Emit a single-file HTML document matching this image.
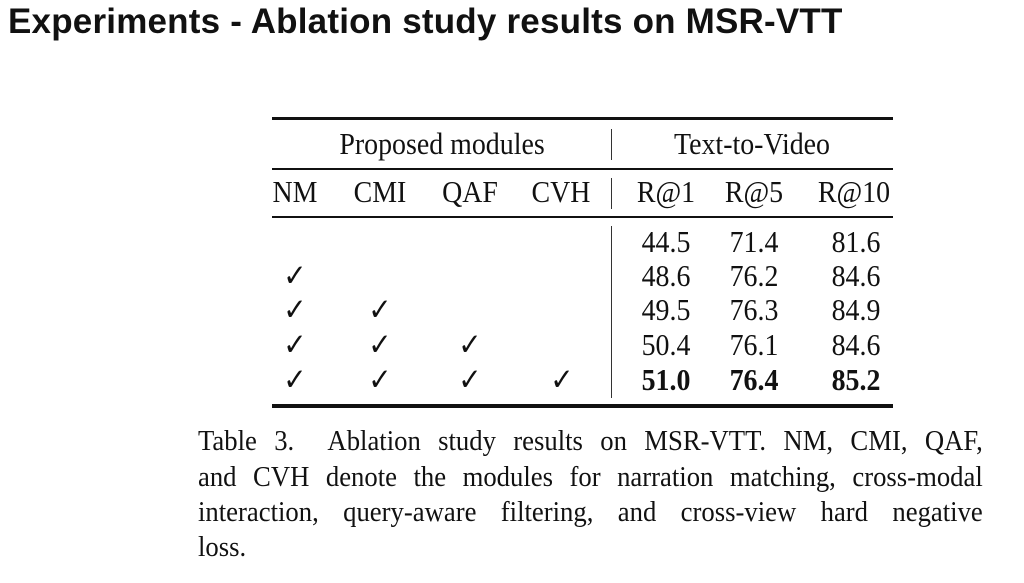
<!DOCTYPE html>
<html><head><meta charset="utf-8"><style>
body{margin:0;width:1024px;height:583px;background:#fff;position:relative;overflow:hidden;color:#111}
.t{position:absolute;font-family:"Liberation Serif",serif;font-size:31px;line-height:1;white-space:nowrap}
.c{transform:translateX(-50%) scaleX(0.9)}
.title{position:absolute;left:8px;top:2px;font-family:"Liberation Sans","NanumGothic",sans-serif;font-weight:bold;font-size:35px;letter-spacing:0.2px}
.rule{position:absolute;left:272px;width:621px;background:#111}
.cap{position:absolute;left:198px;width:853px;transform:scaleX(0.92);transform-origin:0 0;font-family:"Liberation Serif",serif;font-size:29px;line-height:1;text-align:justify;text-align-last:justify;white-space:nowrap}
b{font-weight:bold}
</style></head><body>
<div class="title">Experiments - Ablation study results on MSR-VTT</div>
<div class="rule" style="top:117px;height:3px"></div>
<div class="rule" style="top:168px;height:2px"></div>
<div class="rule" style="top:216px;height:2px"></div>
<div class="rule" style="top:404px;height:4px"></div>
<div style="position:absolute;left:611px;top:129px;width:1px;height:31px;background:#333"></div>
<div style="position:absolute;left:611px;top:178px;width:1px;height:31px;background:#333"></div>
<div style="position:absolute;left:611px;top:226px;width:1px;height:172px;background:#333"></div>
<div class="t c" style="left:442px;top:128px">Proposed modules</div>
<div class="t c" style="left:752px;top:128px">Text-to-Video</div>
<div class="t c" style="left:295px;top:176px">NM</div>
<div class="t c" style="left:380px;top:176px">CMI</div>
<div class="t c" style="left:470px;top:176px">QAF</div>
<div class="t c" style="left:561px;top:176px">CVH</div>
<div class="t c" style="left:666px;top:176px">R@1</div>
<div class="t c" style="left:754px;top:176px">R@5</div>
<div class="t c" style="left:854px;top:176px">R@10</div>

<div class="t c" style="left:666px;top:226px">44.5</div><div class="t c" style="left:754px;top:226px">71.4</div><div class="t c" style="left:856px;top:226px">81.6</div>
<div class="t c" style="left:666px;top:260px">48.6</div><div class="t c" style="left:754px;top:260px">76.2</div><div class="t c" style="left:856px;top:260px">84.6</div>
<div class="t c" style="left:666px;top:294px">49.5</div><div class="t c" style="left:754px;top:294px">76.3</div><div class="t c" style="left:856px;top:294px">84.9</div>
<div class="t c" style="left:666px;top:329px">50.4</div><div class="t c" style="left:754px;top:329px">76.1</div><div class="t c" style="left:856px;top:329px">84.6</div>
<div class="t c" style="left:666px;top:364px"><b>51.0</b></div><div class="t c" style="left:754px;top:364px"><b>76.4</b></div><div class="t c" style="left:856px;top:364px"><b>85.2</b></div>

<div class="t c" style="left:295px;top:260px">✓</div>
<div class="t c" style="left:295px;top:294px">✓</div><div class="t c" style="left:380px;top:294px">✓</div>
<div class="t c" style="left:295px;top:329px">✓</div><div class="t c" style="left:380px;top:329px">✓</div><div class="t c" style="left:470px;top:329px">✓</div>
<div class="t c" style="left:295px;top:364px">✓</div><div class="t c" style="left:380px;top:364px">✓</div><div class="t c" style="left:470px;top:364px">✓</div><div class="t c" style="left:562px;top:364px">✓</div>

<div class="cap" style="top:427px">Table 3.&nbsp; Ablation study results on MSR-VTT. NM, CMI, QAF,</div>
<div class="cap" style="top:463px">and CVH denote the modules for narration matching, cross-modal</div>
<div class="cap" style="top:498px">interaction, query-aware filtering, and cross-view hard negative</div>
<div class="cap" style="top:533px;text-align-last:left">loss.</div>
</body></html>
